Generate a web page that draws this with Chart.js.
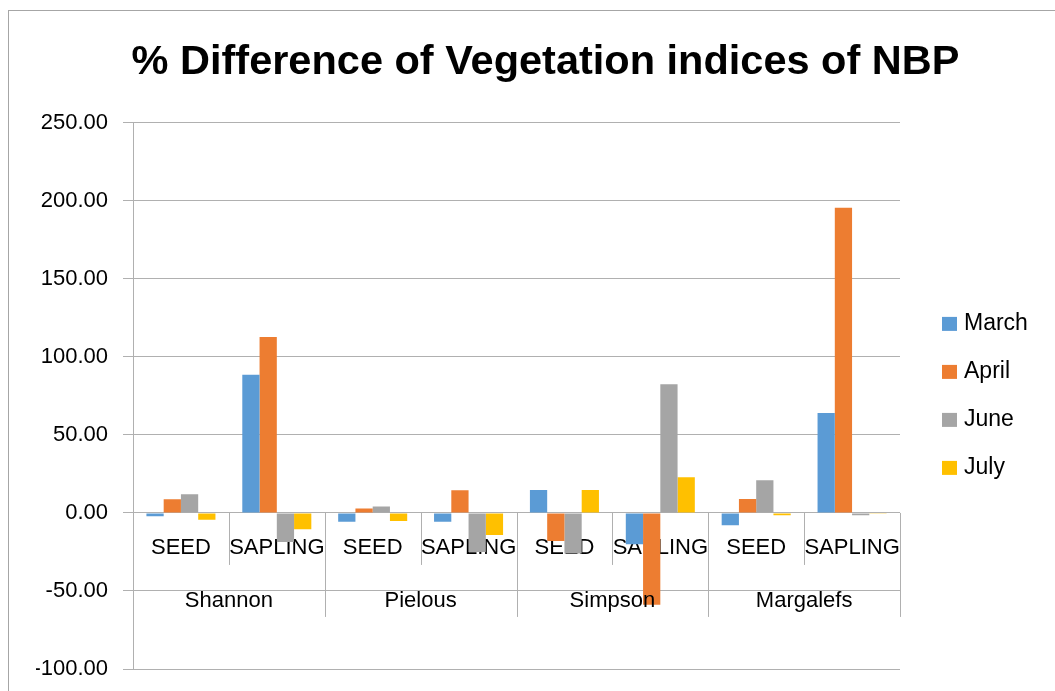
<!DOCTYPE html>
<html>
<head>
<meta charset="utf-8">
<script src="https://cdn.jsdelivr.net/npm/chart.js@4.4.0/dist/chart.umd.min.js"></script>
<style>
  html, body { margin: 0; padding: 0; background: #fff; }
  #wrap { position: relative; width: 1055px; height: 691px; overflow: hidden; }
  #marco { position: absolute; left: 8px; top: 10px; width: 1100px; height: 720px; border-left: 1px solid #a6a6a6; border-top: 1px solid #a6a6a6; pointer-events: none; }
  canvas { position: absolute; left: 0; top: 0; }
</style>
</head>
<body>
<div id="wrap">
  <canvas id="grafico" width="1055" height="691"></canvas>
  <div id="marco"></div>
</div>
<script>
// % diferencia de índices de vegetación (NBP) por índice y estrato
var categorias = ['SEED', 'SAPLING', 'SEED', 'SAPLING', 'SEED', 'SAPLING', 'SEED', 'SAPLING'];
var grupos = ['Shannon', 'Pielous', 'Simpson', 'Margalefs'];
var marzo = [-2.1, 88.5, -5.6, -5.6, 14.7, -20.1, -7.9, 64.1];
var abril = [8.8, 112.8, 2.8, 14.5, -17.9, -58.8, 9.0, 195.5];
var junio = [12.0, -18.6, 4.1, -25.0, -26.0, 82.5, 20.9, -1.5];
var julio = [-4.3, -10.5, -5.1, -14.1, 14.7, 22.9, -1.5, -0.5];
var yMin = -100, yMax = 250, yPaso = 50;

var GRIS = '#b0b0b0';
var FUENTE = '"Liberation Sans", Arial, sans-serif';
Chart.defaults.font.family = FUENTE;
Chart.defaults.color = '#000';

// tabla de etiquetas bajo el eje (divisiones + nombres de grupo)
var tablaEjes = {
  id: 'tablaEjes',
  beforeDatasetsDraw: function (chart) {
    var x = chart.scales.x, y = chart.scales.y, ctx = chart.ctx;
    var cero = y.getPixelForValue(0);
    var paso = x.getPixelForValue(1) - x.getPixelForValue(0);
    var x0 = x.getPixelForValue(0) - paso / 2;
    ctx.save();
    ctx.strokeStyle = GRIS; ctx.lineWidth = 1;
    for (var i = 0; i <= categorias.length; i++) {
      var bx = Math.round(x0 + i * paso) + 0.5;
      ctx.beginPath(); ctx.moveTo(bx, cero); ctx.lineTo(bx, cero + (i % 2 === 0 ? 104 : 52)); ctx.stroke();
    }
    ctx.restore();
  },
  afterDraw: function (chart) {
    var x = chart.scales.x, y = chart.scales.y, ctx = chart.ctx;
    var cero = y.getPixelForValue(0);
    ctx.save();
    ctx.font = '22px ' + FUENTE; ctx.fillStyle = '#000';
    ctx.textAlign = 'center'; ctx.textBaseline = 'middle';
    grupos.forEach(function (g, k) {
      var cx = (x.getPixelForValue(2 * k) + x.getPixelForValue(2 * k + 1)) / 2;
      ctx.fillText(g, cx, cero + 88);
    });
    // leyenda lateral
    var a = chart.chartArea, medio = (a.top + a.bottom) / 2;
    ctx.font = '23px ' + FUENTE; ctx.textAlign = 'left';
    chart.data.datasets.forEach(function (ds, i) {
      var yy = medio + (i - 1.5) * 48;
      ctx.fillStyle = ds.backgroundColor; ctx.fillRect(a.right + 42, yy - 7, 15, 14);
      ctx.fillStyle = '#000'; ctx.fillText(ds.label, a.right + 64, yy);
    });
    ctx.restore();
  }
};

new Chart(document.getElementById('grafico').getContext('2d'), {
  type: 'bar',
  data: {
    labels: categorias,
    datasets: [
      { label: 'March', data: marzo, backgroundColor: '#5b9bd5' },
      { label: 'April', data: abril, backgroundColor: '#ed7d31' },
      { label: 'June', data: junio, backgroundColor: '#a5a5a5' },
      { label: 'July', data: julio, backgroundColor: '#ffc000' }
    ]
  },
  options: {
    responsive: false, animation: false,
    layout: { padding: { left: 36, right: 0, top: 0, bottom: 22 } },
    datasets: { bar: { categoryPercentage: 0.72, barPercentage: 1.0, borderWidth: 0 } },
    plugins: {
      legend: { display: false },
      tooltip: { enabled: false },
      title: {
        display: true, text: '% Difference of Vegetation indices of NBP', color: '#000',
        font: { size: 41.5, weight: 'bold' }, padding: { top: 38, bottom: 35 }
      }
    },
    scales: {
      x: {
        type: 'category', position: { y: 0 }, offset: true, z: 1,
        grid: { display: false, drawTicks: false },
        border: { display: false },
        ticks: { font: { size: 22 }, color: '#000', padding: 22, maxRotation: 0, autoSkip: false }
      },
      y: {
        min: yMin, max: yMax,
        grid: { color: GRIS, tickLength: 10 },
        border: { color: GRIS },
        ticks: { stepSize: yPaso, font: { size: 22 }, color: '#000', padding: 15, callback: function (v) { return v.toFixed(2); } },
        afterFit: function (s) { s.width = 97; s.paddingTop = 0; s.paddingBottom = 0; }
      },
      hueco: {
        position: 'right', display: true,
        grid: { display: false, drawTicks: false }, border: { display: false }, ticks: { display: false },
        afterFit: function (s) { s.width = 155; }
      }
    }
  },
  plugins: [tablaEjes]
});
</script>
</body>
</html>
